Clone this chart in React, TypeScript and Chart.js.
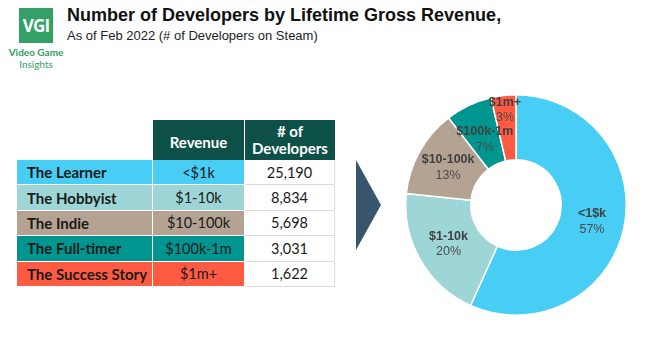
import React, { useEffect, useRef } from "react";
import { Chart, registerables } from "chart.js";

Chart.register(...registerables);

const tiers: string[] = ["The Learner", "The Hobbyist", "The Indie", "The Full-timer", "The Success Story"];
const revenueBands: string[] = ["<$1k", "$1-10k", "$10-100k", "$100k-1m", "$1m+"];
const sliceLabels: string[] = ["<1$k", "$1-10k", "$10-100k", "$100k-1m", "$1m+"];
const percentLabels: string[] = ["57%", "20%", "13%", "7%", "3%"];
const developers: number[] = [25190, 8834, 5698, 3031, 1622];
const colors: string[] = ["#48CDF5", "#9ED6D7", "#B4A392", "#00968F", "#FF5B42"];

const TITLE = "Number of Developers by Lifetime Gross Revenue,";
const SUBTITLE = "As of Feb 2022 (# of Developers on Steam)";

const labelRadiusFactor = [0.5, 0.5, 0.5, 0.42, 0.78];

const labelPlugin = {
  id: "sliceLabels",
  afterDatasetsDraw(chart: any) {
    const ctx = chart.ctx;
    const meta = chart.getDatasetMeta(0);
    meta.data.forEach((arc: any, i: number) => {
      const { x, y, startAngle, endAngle, innerRadius, outerRadius } = arc.getProps(
        ["x", "y", "startAngle", "endAngle", "innerRadius", "outerRadius"],
        true
      );
      const mid = (startAngle + endAngle) / 2;
      const r = innerRadius + (outerRadius - innerRadius) * labelRadiusFactor[i];
      const cx = x + Math.cos(mid) * r;
      const cy = y + Math.sin(mid) * r;
      ctx.save();
      ctx.textAlign = "center";
      ctx.textBaseline = "middle";
      ctx.fillStyle = "#404040";
      ctx.font = "bold 12.5px 'Liberation Sans', Arial, sans-serif";
      ctx.fillText(sliceLabels[i], cx, cy - 7.5);
      ctx.fillStyle = "#4a4a4a";
      ctx.font = "12.5px 'Liberation Sans', Arial, sans-serif";
      ctx.fillText(percentLabels[i], cx, cy + 8);
      ctx.restore();
    });
  },
};

function Doughnut() {
  const ref = useRef<HTMLCanvasElement | null>(null);
  useEffect(() => {
    if (!ref.current) return;
    const chart = new Chart(ref.current, {
      type: "doughnut",
      data: {
        labels: revenueBands,
        datasets: [
          {
            data: developers,
            backgroundColor: colors,
            borderColor: "#ffffff",
            borderWidth: 1.5,
          },
        ],
      },
      options: {
        animation: false,
        responsive: false,
        cutout: "41%",
        layout: { padding: 19 },
        plugins: { legend: { display: false }, tooltip: { enabled: false } },
      },
      plugins: [labelPlugin],
    });
    return () => chart.destroy();
  }, []);
  return (
    <canvas
      ref={ref}
      width={260}
      height={260}
      style={{ position: "absolute", left: 386, top: 75, width: 260, height: 260 }}
    />
  );
}

const cellFont = "Lato, 'Open Sans', sans-serif";

export default function App() {
  const rowTop = 160;
  const rowH = 25.4;
  return (
    <div
      style={{
        position: "fixed",
        left: 0,
        top: 0,
        width: 646,
        height: 345,
        background: "#ffffff",
        overflow: "hidden",
        fontFamily: "'Liberation Sans', Arial, sans-serif",
      }}
    >
      {/* logo */}
      <div
        style={{
          position: "absolute",
          left: 19,
          top: 8,
          width: 34,
          height: 35,
          background: "#33A065",
          color: "#fff",
          fontFamily: "'Open Sans', sans-serif",
          fontWeight: 700,
          fontSize: 17,
          lineHeight: "35px",
          textAlign: "center",
          letterSpacing: -0.8,
        }}
      >
        VGI
      </div>
      <div
        style={{
          position: "absolute",
          left: -2,
          top: 46,
          width: 76,
          textAlign: "center",
          color: "#33A065",
          fontFamily: "Lato, sans-serif",
          fontSize: 10,
          lineHeight: "12px",
        }}
      >
        <div style={{ fontWeight: 700 }}>Video Game</div>
        <div>Insights</div>
      </div>
      {/* title */}
      <div
        style={{
          position: "absolute",
          left: 67,
          top: 5,
          fontSize: 18,
          fontWeight: 700,
          color: "#111",
          whiteSpace: "nowrap",
        }}
      >
        {TITLE}
      </div>
      <div
        style={{
          position: "absolute",
          left: 67,
          top: 28,
          fontSize: 13,
          color: "#222",
          whiteSpace: "nowrap",
        }}
      >
        {SUBTITLE}
      </div>

      {/* table header */}
      <div
        style={{
          position: "absolute",
          left: 153,
          top: 120,
          width: 91,
          height: 40,
          background: "#0D5047",
          color: "#fff",
          fontFamily: cellFont,
          fontWeight: 700,
          fontSize: 15,
          display: "flex",
          alignItems: "center",
          justifyContent: "center",
          boxSizing: "border-box",
          paddingTop: 4,
        }}
      >
        Revenue
      </div>
      <div
        style={{
          position: "absolute",
          left: 245,
          top: 120,
          width: 90,
          height: 40,
          background: "#0D5047",
          color: "#fff",
          fontFamily: cellFont,
          fontWeight: 700,
          fontSize: 15,
          lineHeight: "17px",
          textAlign: "center",
          boxSizing: "border-box",
          paddingTop: 3,
        }}
      >
        # of
        <br />
        Developers
      </div>

      {tiers.map((t, i) => {
        const top = rowTop + i * rowH;
        const base: React.CSSProperties = {
          position: "absolute",
          top,
          height: rowH - 1,
          display: "flex",
          alignItems: "center",
          fontFamily: cellFont,
          fontSize: 14.5,
          color: "#1a1a1a",
          boxSizing: "border-box",
        };
        return (
          <React.Fragment key={t}>
            <div
              style={{
                ...base,
                left: 17,
                width: 135,
                background: colors[i],
                fontWeight: 700,
                fontSize: 15,
                paddingLeft: 10,
              }}
            >
              {t}
            </div>
            <div style={{ ...base, left: 153, width: 91, background: colors[i], justifyContent: "center" }}>
              {revenueBands[i]}
            </div>
            <div
              style={{
                ...base,
                left: 245,
                width: 90,
                height: rowH,
                background: "#fff",
                justifyContent: "center",
                borderBottom: "1px solid #dcdcdc",
                borderRight: "1px solid #dcdcdc",
              }}
            >
              {developers[i].toLocaleString("en-US")}
            </div>
          </React.Fragment>
        );
      })}

      {/* arrow */}
      <svg style={{ position: "absolute", left: 355, top: 159 }} width={28} height={93}>
        <polygon points="1,1 26,46 1,91" fill="#37566E" />
      </svg>

      <Doughnut />
    </div>
  );
}
